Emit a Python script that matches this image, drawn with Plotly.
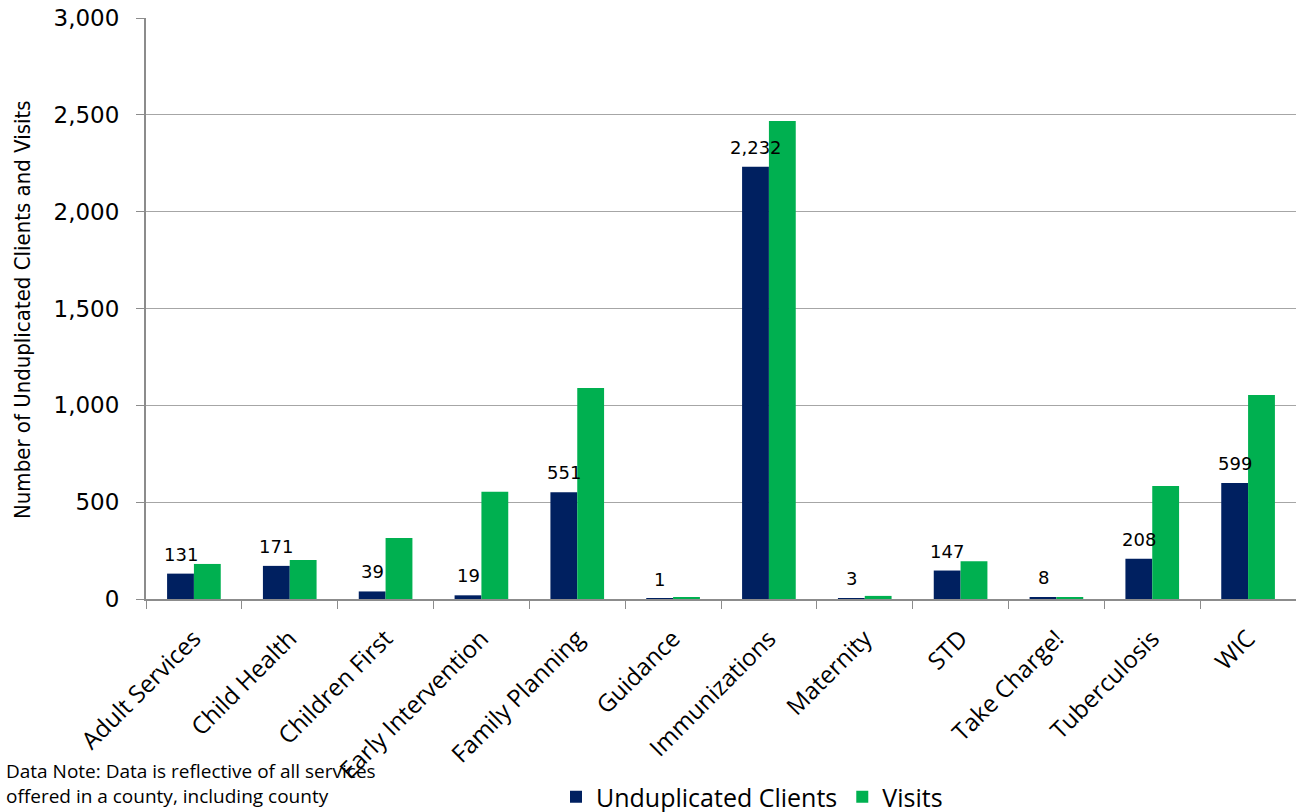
import plotly.graph_objects as go

categories = ["Adult Services", "Child Health", "Children First", "Early Intervention",
              "Family Planning", "Guidance", "Immunizations", "Maternity", "STD",
              "Take Charge!", "Tuberculosis", "WIC"]
clients = [131, 171, 39, 19, 551, 1, 2232, 3, 147, 8, 208, 599]
visits = [181, 201, 315, 554, 1089, 6, 2468, 16, 195, 9, 583, 1053]
y_ticks = [0, 500, 1000, 1500, 2000, 2500, 3000]

W, H = 1296, 812
L, R, T, B = 146, 0, 18, 213
PW, PH = W - L - R, H - T - B
BARGAP = 0.44
bar_px = PW / len(categories) * (1 - BARGAP) / 2

fig = go.Figure()
fig.add_trace(go.Bar(
    x=categories, y=clients, name="Unduplicated Clients",
    marker=dict(color="#002060", line=dict(width=0)),
))
fig.add_trace(go.Bar(
    x=categories, y=visits, name="Visits",
    marker=dict(color="#00B050", line=dict(width=0)),
))

# data labels for the clients series, drawn on top of all bars
for c, v in zip(categories, clients):
    fig.add_annotation(
        x=c, y=v, xref="x", yref="y", text=f"{v:,}", showarrow=False,
        xanchor="center", yanchor="bottom", xshift=-bar_px / 2, yshift=7,
        font=dict(family="DejaVu Sans", size=18, color="black"),
    )

fig.update_layout(
    width=W, height=H,
    margin=dict(l=L, r=R, t=T, b=B, autoexpand=False),
    paper_bgcolor="white", plot_bgcolor="white",
    barmode="group", bargap=BARGAP, bargroupgap=0,
    showlegend=True,
    legend=dict(orientation="h", x=(752 - L) / PW, y=-(797 - (T + PH)) / PH,
                xanchor="center", yanchor="middle",
                font=dict(family="Open Sans", size=25, color="black"),
                itemsizing="constant", traceorder="normal", tracegroupgap=0),
    xaxis=dict(
        type="category", tickson="boundaries", ticks="outside", ticklen=8,
        tickcolor="#8c8c8c", showline=True, linecolor="#8c8c8c", linewidth=2,
        tickangle=-45, showgrid=False, automargin=False, ticklabelstandoff=14,
        tickfont=dict(family="Open Sans", size=24, color="black"),
    ),
    yaxis=dict(
        range=[0, 3000], tickvals=y_ticks, tickformat=",",
        showgrid=True, gridcolor="#a6a6a6", gridwidth=1,
        showline=True, linecolor="#8c8c8c", linewidth=2,
        ticks="outside", ticklen=8, tickcolor="#8c8c8c",
        ticklabelstandoff=12, automargin=False,
        tickfont=dict(family="DejaVu Sans", size=23, color="black"),
        zeroline=False,
    ),
)

fig.add_annotation(
    xref="paper", yref="paper", x=(22 - L) / PW, y=(T + PH - 310) / PH,
    xanchor="center", yanchor="middle", textangle=-90,
    text="Number of Unduplicated Clients and Visits", showarrow=False,
    font=dict(family="DejaVu Sans Condensed", size=22, color="black"),
)

fig.add_annotation(
    xref="paper", yref="paper", x=(4 - L) / PW, y=-(811 - (T + PH)) / PH,
    xanchor="left", yanchor="bottom",
    text="Data Note: Data is reflective of all services<br>offered in a county, including county",
    showarrow=False, align="left",
    font=dict(family="Open Sans", size=19, color="black"),
)

fig.write_html(
    "out.html",
    config={"displayModeBar": False},
    post_script="document.body.style.margin='0';document.body.style.overflow='hidden';",
)
